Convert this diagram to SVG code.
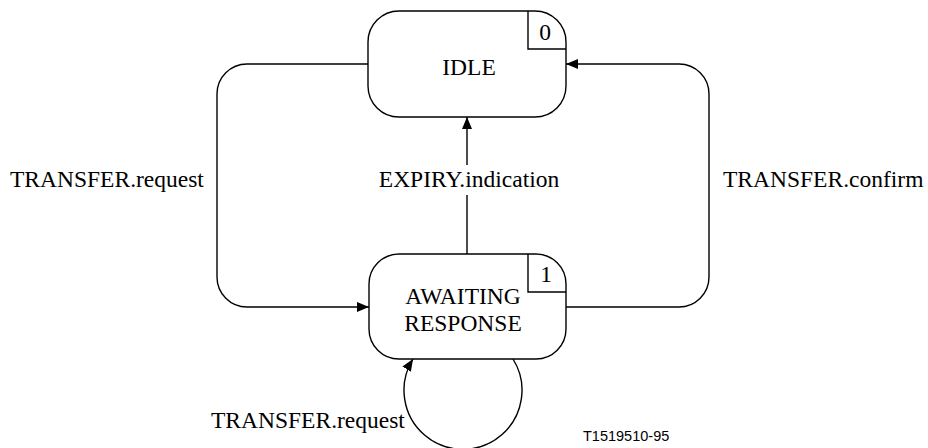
<svg xmlns="http://www.w3.org/2000/svg" width="928" height="448" viewBox="0 0 928 448">
<defs>
<marker id="arr" viewBox="0 0 12 10" refX="12" refY="5" markerWidth="12" markerHeight="10" markerUnits="userSpaceOnUse" orient="auto">
<path d="M0,0 L12,5 L0,10 Z" fill="#000"/>
</marker>
<style>
.box{fill:#fff;stroke:#000;stroke-width:1.4}
.ln{fill:none;stroke:#000;stroke-width:1.4}
.t{font-size:23.5px;fill:#000}
.id{font-size:14.5px;fill:#000}
</style>
</defs>
<rect width="928" height="448" fill="#fff"/>
<g id="connectors" font-family="Liberation Serif, Times New Roman, serif">
<path class="ln" d="M368,64 H247 A30,30 0 0 0 217,94 V277 A30,30 0 0 0 247,307 H369" marker-end="url(#arr)"/>
<path class="ln" d="M566,307 H679 A30,30 0 0 0 709,277 V94 A30,30 0 0 0 679,64 H566" marker-end="url(#arr)"/>
<path class="ln" d="M467,254 V195 M467,165 V117" marker-end="url(#arr)"/>
<path class="ln" d="M513,359 A59,59 0 1 1 413,359" marker-end="url(#arr)"/>
<text class="t" x="10" y="187">TRANSFER.request</text>
<text class="t" x="469" y="187" text-anchor="middle">EXPIRY.indication</text>
<text class="t" x="723" y="187">TRANSFER.confirm</text>
<text class="t" x="211" y="428">TRANSFER.request</text>
</g>
<g id="idle" font-family="Liberation Serif, Times New Roman, serif">
<rect class="box" x="368" y="11" width="198" height="106" rx="31" ry="31"/>
<path class="ln" d="M528,11 V49 H566"/>
<text class="t" x="545" y="40" text-anchor="middle">0</text>
<text class="t" x="469" y="75" text-anchor="middle">IDLE</text>
</g>
<g id="awaiting" font-family="Liberation Serif, Times New Roman, serif">
<rect class="box" x="369" y="254" width="197" height="105" rx="30" ry="30"/>
<path class="ln" d="M528,254 V292 H566"/>
<text class="t" x="546" y="282" text-anchor="middle">1</text>
<text class="t" x="463" y="304" text-anchor="middle">AWAITING</text>
<text class="t" x="463" y="331" text-anchor="middle">RESPONSE</text>
</g>
<text class="id" font-family="Liberation Sans, Arial, sans-serif" x="583" y="441">T1519510-95</text>
</svg>
